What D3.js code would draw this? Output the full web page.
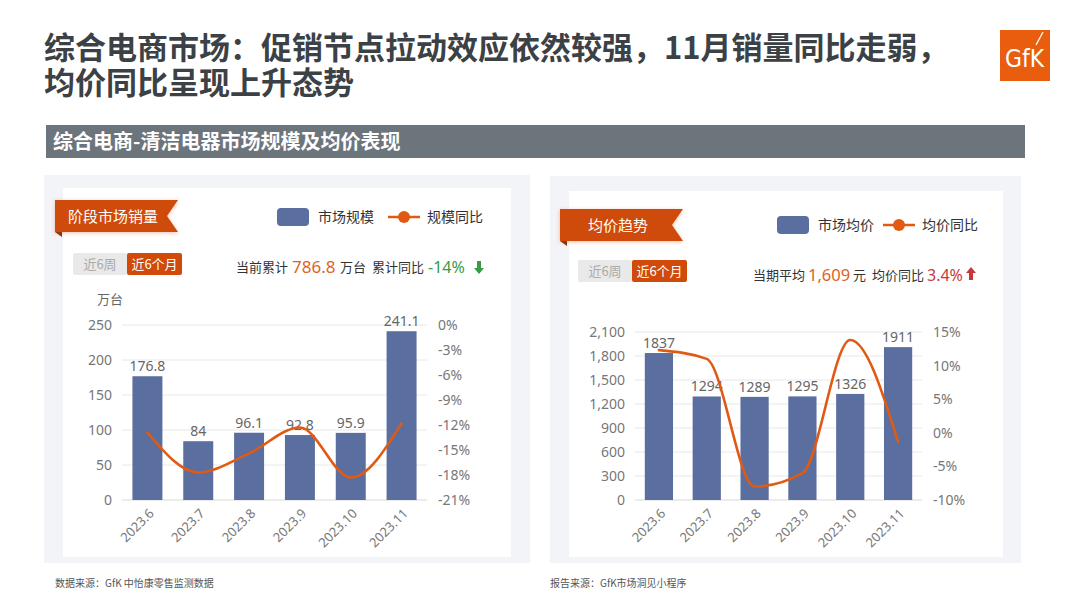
<!DOCTYPE html>
<html><head><meta charset="utf-8">
<script src="https://cdn.jsdelivr.net/npm/d3@7"></script>
<style>
html,body{margin:0;padding:0;background:#fff;}
#wrap{position:relative;width:1080px;height:608px;}
svg{display:block;font-family:"Noto Sans CJK SC","Noto Sans",sans-serif;}
#title{position:absolute;left:44px;top:28px;font-family:"Noto Sans CJK SC",sans-serif;font-size:31px;
  font-weight:700;line-height:35px;color:#3c4146;white-space:nowrap;margin:0;}
</style></head>
<body><div id="wrap"><svg id="c" width="1080" height="608"></svg><div id="title"></div></div>
<script>
// ---- data ----
const months = ["2023.6","2023.7","2023.8","2023.9","2023.10","2023.11"];
const volume = [176.8, 84, 96.1, 92.8, 95.9, 241.1];          // 万台
const volumeYoY = [-12.9, -17.7, -15.4, -12.3, -18.3, -11.8];  // %
const avgPrice = [1837, 1294, 1289, 1295, 1326, 1911];         // 元
const priceYoY = [12.3, 11.0, -8.0, -6.0, 13.8, -1.3];         // %
const volTicks = [0, 50, 100, 150, 200, 250];
const volYoYTicks = [-21, -18, -15, -12, -9, -6, -3, 0];
const priceTicks = [0, 300, 600, 900, 1200, 1500, 1800, 2100];
const priceYoYTicks = [-10, -5, 0, 5, 10, 15];
const titleLines = ["综合电商市场：促销节点拉动效应依然较强，11月销量同比走弱，", "均价同比呈现上升态势"];
const sectionTitle = "综合电商-清洁电器市场规模及均价表现";

const BAR = "#5a6e9f", LINE = "#e15a14", ORANGE = "#cf4b0c";
const svg = d3.select("#c");

// title (one block, two lines)
const td = d3.select("#title");
titleLines.forEach((t,i)=>{ if(i) td.append("br"); td.append("span").text(t); });

// GfK logo
const logo = svg.append("g").attr("transform","translate(1000,30)");
logo.append("rect").attr("width",50).attr("height",51).attr("fill","#e85d0e");
logo.append("text").attr("x",5).attr("y",37).attr("textLength",39).attr("lengthAdjust","spacingAndGlyphs")
  .attr("font-family","Liberation Sans Narrow, DejaVu Sans Condensed, sans-serif")
  .attr("font-size",25).attr("fill","#fff").text("GfK");
logo.append("line").attr("x1",36).attr("y1",15).attr("x2",43).attr("y2",2).attr("stroke","#fff").attr("stroke-width",1.3);

// section banner
svg.append("rect").attr("x",46).attr("y",125).attr("width",979).attr("height",33).attr("fill","#6c757c");
svg.append("text").attr("x",53).attr("y",149).attr("font-size",20).attr("font-weight",700)
  .attr("fill","#fff").text(sectionTitle);

// footer
svg.append("text").attr("x",55).attr("y",587).attr("font-size",10).attr("fill","#555").text("数据来源：GfK 中怡康零售监测数据");
svg.append("text").attr("x",550).attr("y",587).attr("font-size",10).attr("fill","#555").text("报告来源：GfK市场洞见小程序");

function ribbon(x, y, w, h, label){
  const g = svg.append("g");
  g.append("path").attr("d",`M${x},${y+h} L${x+7},${y+h+5} L${x+7},${y+h} Z`).attr("fill","#8a3208");
  g.append("path").attr("d",`M${x},${y} L${x+w},${y} L${x+w-11},${y+h/2} L${x+w},${y+h} L${x},${y+h} Z`)
    .attr("fill",ORANGE).style("filter","drop-shadow(0px 1px 2px rgba(200,80,20,0.35))");
  g.append("text").attr("x",x+(w-11)/2+2).attr("y",y+h/2+5.5).attr("text-anchor","middle")
    .attr("font-size",15).attr("fill","#fff").text(label);
}
function toggle(x, y){
  svg.append("rect").attr("x",x).attr("y",y).attr("width",54).attr("height",22).attr("rx",2).attr("fill","#e9e9e9");
  svg.append("rect").attr("x",x+54).attr("y",y).attr("width",55).attr("height",22).attr("rx",2).attr("fill","#d04a0a");
  svg.append("text").attr("x",x+27).attr("y",y+16).attr("text-anchor","middle").attr("font-size",13).attr("fill","#aaa").text("近6周");
  svg.append("text").attr("x",x+81.5).attr("y",y+16).attr("text-anchor","middle").attr("font-size",13).attr("fill","#fff").text("近6个月");
}
function legend(x, y, barLabel, lineLabel, lx){
  svg.append("rect").attr("x",x).attr("y",y-9).attr("width",32).attr("height",18).attr("rx",4).attr("fill",BAR);
  svg.append("text").attr("x",x+41).attr("y",y+5).attr("font-size",14).attr("fill","#333").text(barLabel);
  svg.append("line").attr("x1",lx).attr("x2",lx+32).attr("y1",y).attr("y2",y).attr("stroke",LINE).attr("stroke-width",2.5);
  svg.append("circle").attr("cx",lx+16).attr("cy",y).attr("r",6).attr("fill",LINE);
  svg.append("text").attr("x",lx+39).attr("y",y+5).attr("font-size",14).attr("fill","#333").text(lineLabel);
}
function arrow(x, y, up, color){
  const p = up
    ? `M${x},${y} L${x+5},${y+6} L${x+2},${y+6} L${x+2},${y+13} L${x-2},${y+13} L${x-2},${y+6} L${x-5},${y+6} Z`
    : `M${x},${y+13} L${x+5},${y+7} L${x+2},${y+7} L${x+2},${y} L${x-2},${y} L${x-2},${y+7} L${x-5},${y+7} Z`;
  svg.append("path").attr("d",p).attr("fill",color);
}

function chart(o){
  const g = svg.append("g");
  const x = d3.scaleBand().domain(months).range([o.x0, o.x1]).paddingInner(0.41).paddingOuter(0.205);
  const y = d3.scaleLinear().domain([o.ticks[0], o.ticks[o.ticks.length-1]]).range([o.yb, o.yt]);
  const y2 = d3.scaleLinear().domain([o.ticks2[0], o.ticks2[o.ticks2.length-1]]).range([o.yb, o.yt]);
  g.selectAll("line.grid").data(o.ticks).join("line")
    .attr("x1",o.x0).attr("x2",o.x1).attr("y1",d=>y(d)).attr("y2",d=>y(d))
    .attr("stroke",(d,i)=> i===0 ? "#d9d9d9" : "#e8e8e8").attr("stroke-width",1);
  const ax = d3.axisLeft(y).tickValues(o.ticks).tickSize(0).tickPadding(10).tickFormat(o.fmt);
  const ga = g.append("g").attr("transform",`translate(${o.x0},0)`).call(ax);
  ga.select(".domain").remove();
  ga.selectAll("text").attr("font-size",14).attr("fill","#777").attr("font-family","Noto Sans, sans-serif");
  const ax2 = d3.axisRight(y2).tickValues(o.ticks2).tickSize(0).tickPadding(11).tickFormat(d=>d+"%");
  const gb = g.append("g").attr("transform",`translate(${o.x1},0)`).call(ax2);
  gb.select(".domain").remove();
  gb.selectAll("text").attr("font-size",14).attr("fill","#777").attr("font-family","Noto Sans, sans-serif");
  g.selectAll("rect.bar").data(o.bars).join("rect")
    .attr("x",(d,i)=>x(months[i])).attr("width",x.bandwidth())
    .attr("y",d=>y(d)).attr("height",d=>y(0)-y(d)).attr("fill",BAR);
  g.selectAll("text.val").data(o.bars).join("text")
    .attr("x",(d,i)=>x(months[i])+x.bandwidth()/2).attr("y",d=>y(d)-5)
    .attr("text-anchor","middle").attr("font-size",14).attr("fill","#666")
    .attr("font-family","Noto Sans, sans-serif").text(d=>o.valFmt(d));
  const line = d3.line().x((d,i)=>x(months[i])+x.bandwidth()/2).y(d=>y2(d)).curve(d3.curveMonotoneX);
  g.append("path").datum(o.line).attr("d",line).attr("fill","none").attr("stroke",LINE)
    .attr("stroke-width",2.6).attr("stroke-linecap","round");
  g.selectAll("text.xl").data(months).join("text")
    .attr("transform",d=>`translate(${x(d)+x.bandwidth()/2+4},${o.yb+11}) rotate(-45)`)
    .attr("text-anchor","end").attr("dy","0.35em").attr("font-size",13).attr("fill","#777")
    .attr("font-family","Noto Sans, sans-serif").text(d=>d);
}

// ---- panels ----
svg.append("rect").attr("x",44).attr("y",175).attr("width",486).attr("height",388).attr("fill","#f3f4f7");
svg.append("rect").attr("x",63).attr("y",188).attr("width",448).attr("height",369).attr("fill","#fff");
svg.append("rect").attr("x",550).attr("y",176).attr("width",471).attr("height",387).attr("fill","#f3f4f7");
svg.append("rect").attr("x",569).attr("y",191).attr("width",434).attr("height",366).attr("fill","#fff");

// left panel
ribbon(55, 200, 123, 32, "阶段市场销量");
legend(277, 217, "市场规模", "规模同比", 388);
toggle(73, 253);
const lt = svg.append("g").attr("font-size",13).attr("fill","#333");
lt.append("text").attr("x",236).attr("y",272).text("当前累计");
lt.append("text").attr("x",292).attr("y",273).attr("font-size",17).attr("fill","#e0621e").attr("font-family","Noto Sans, sans-serif").text("786.8");
lt.append("text").attr("x",340).attr("y",272).text("万台");
lt.append("text").attr("x",372).attr("y",272).text("累计同比");
lt.append("text").attr("x",428).attr("y",273).attr("font-size",16).attr("fill","#3a9a45").attr("font-family","Noto Sans, sans-serif").text("-14%");
arrow(479, 261, false, "#3a9a45");
svg.append("text").attr("x",97).attr("y",304).attr("font-size",13).attr("fill","#666").text("万台");

chart({x0:122, x1:427, yb:500, yt:325, ticks:volTicks, ticks2:volYoYTicks, bars:volume, line:volumeYoY,
  fmt:d=>d, valFmt:d=>d});

// right panel
ribbon(560, 209, 123, 32, "均价趋势");
legend(777, 225, "市场均价", "均价同比", 883);
toggle(578, 260);
const rt = svg.append("g").attr("font-size",13).attr("fill","#333");
rt.append("text").attr("x",753).attr("y",280).text("当期平均");
rt.append("text").attr("x",808).attr("y",281).attr("font-size",16.5).attr("fill","#e0621e").attr("font-family","Noto Sans, sans-serif").text("1,609");
rt.append("text").attr("x",853).attr("y",280).text("元");
rt.append("text").attr("x",872).attr("y",280).text("均价同比");
rt.append("text").attr("x",927).attr("y",281).attr("font-size",16).attr("fill","#c8383a").attr("font-family","Noto Sans, sans-serif").text("3.4%");
arrow(971, 267, true, "#c8383a");

chart({x0:635, x1:922, yb:500, yt:332, ticks:priceTicks, ticks2:priceYoYTicks, bars:avgPrice, line:priceYoY,
  fmt:d3.format(","), valFmt:d=>d});
</script></body></html>
